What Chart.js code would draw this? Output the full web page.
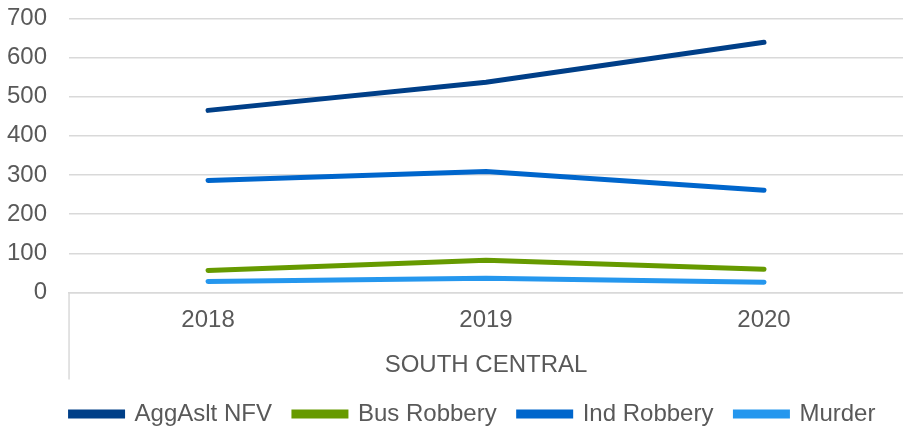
<!DOCTYPE html>
<html>
<head>
<meta charset="utf-8">
<script src="https://cdn.jsdelivr.net/npm/chart.js@4/dist/chart.umd.min.js"></script>
<style>
  html, body { margin: 0; padding: 0; background: #fff; }
  #wrap { width: 903px; height: 427px; }
</style>
</head>
<body>
<div id="wrap"><canvas id="chart"></canvas></div>
<script>
// --- datos ---
const years = ['2018', '2019', '2020'];
const groupLabel = 'SOUTH CENTRAL';
const aggAsltNFV = [465, 537, 639];
const busRobbery = [56, 82, 59];
const indRobbery = [286, 309, 261];
const murder = [28, 36, 26];
const yTicks = [0, 100, 200, 300, 400, 500, 600, 700];

const FONT = "'Liberation Sans', Arial, sans-serif";
const GREY = '#595959';

// linea vertical a la izquierda del eje de categorias (estilo Excel)
// y leyenda un poco corrida a la derecha como en el original
const groupBorder = {
    id: 'groupBorder',
    afterLayout(chart) {
        chart.legend.left += 20;
        chart.legend.right += 20;
    },
    afterDraw(chart) {
        const ctx = chart.ctx;
        const area = chart.chartArea;
        ctx.save();
        ctx.strokeStyle = '#d9d9d9';
        ctx.lineWidth = 1.5;
        ctx.beginPath();
        ctx.moveTo(area.left, area.bottom);
        ctx.lineTo(area.left, area.bottom + 87);
        ctx.stroke();
        ctx.restore();
    }
};

const mk = (label, data, color) => ({
    label, data,
    borderColor: color,
    backgroundColor: color,
    borderWidth: 5,
    borderCapStyle: 'round',
    tension: 0,
    pointRadius: 0,
    pointHoverRadius: 0
});

new Chart(document.getElementById('chart'), {
    type: 'line',
    data: {
        labels: years,
        datasets: [
            mk('AggAslt NFV', aggAsltNFV, '#003f88'),
            mk('Bus Robbery', busRobbery, '#669a00'),
            mk('Ind Robbery', indRobbery, '#0066cc'),
            mk('Murder', murder, '#2597ee')
        ]
    },
    options: {
        responsive: true,
        maintainAspectRatio: false,
        animation: false,
        layout: { padding: { top: 0, right: 0, left: 3, bottom: -9 } },
        plugins: {
            legend: {
                position: 'bottom',
                labels: {
                    font: { family: FONT, size: 24 },
                    color: GREY,
                    boxWidth: 52,
                    boxHeight: 4,
                    padding: 22
                }
            },
            tooltip: { enabled: false }
        },
        scales: {
            x: {
                offset: true,
                grid: { display: false },
                border: { display: true, color: '#d9d9d9', width: 1.5 },
                ticks: {
                    font: { family: FONT, size: 24 },
                    color: GREY,
                    padding: 6,
                    maxRotation: 0
                },
                title: {
                    display: true,
                    text: groupLabel,
                    font: { family: FONT, size: 24 },
                    color: GREY,
                    padding: { top: 10, bottom: 0 }
                }
            },
            y: {
                min: 0,
                max: 700,
                afterBuildTicks: (axis) => { axis.ticks = yTicks.map(v => ({ value: v })); },
                grid: {
                    color: '#d9d9d9',
                    lineWidth: 1.5,
                    drawTicks: true,
                    tickLength: 18,
                    tickColor: 'rgba(0,0,0,0)'
                },
                border: { display: false },
                ticks: {
                    font: { family: FONT, size: 24 },
                    color: GREY,
                    padding: 4
                }
            }
        }
    },
    plugins: [groupBorder]
});
</script>
</body>
</html>
